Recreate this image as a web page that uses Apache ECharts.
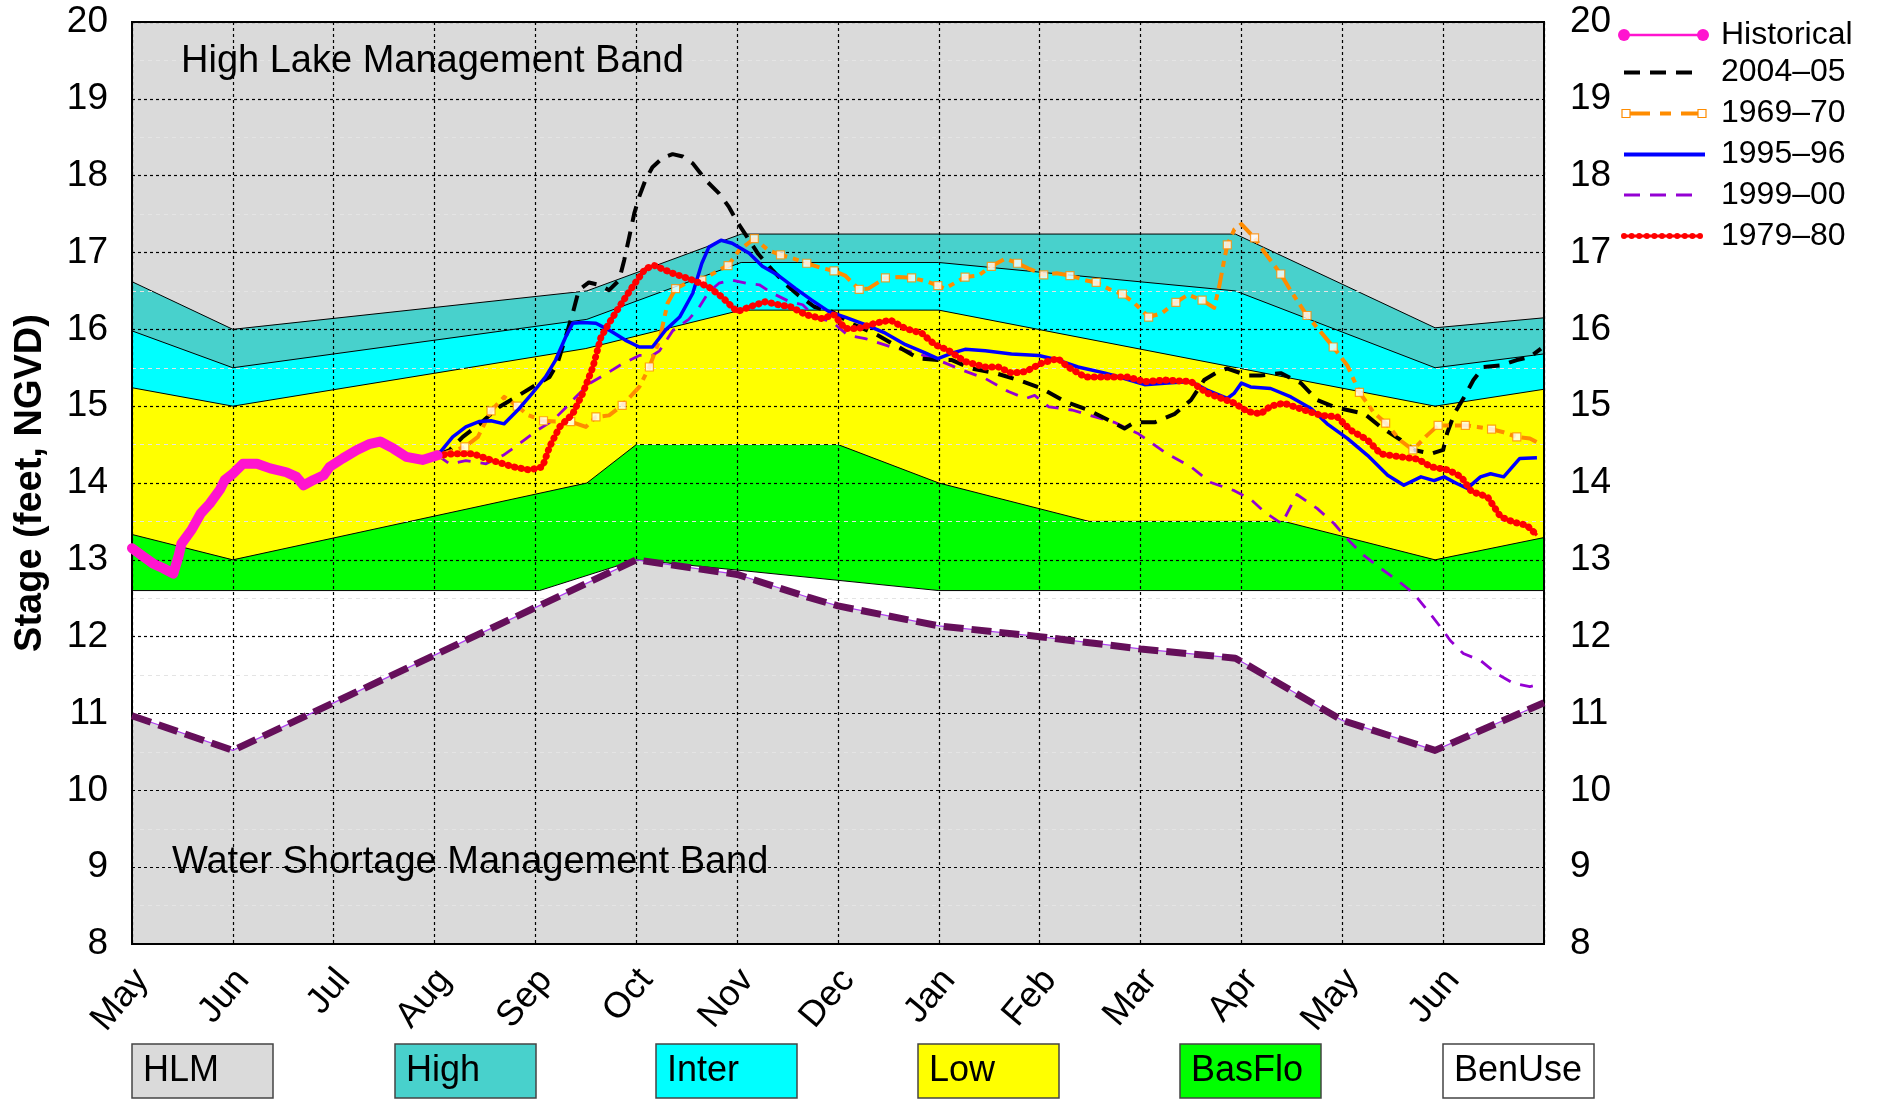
<!DOCTYPE html>
<html><head><meta charset="utf-8">
<script src="https://cdn.jsdelivr.net/npm/echarts@6/dist/echarts.min.js"></script>
<style>html,body{margin:0;padding:0;background:#fff}#c{width:1877px;height:1099px}</style>
</head><body><div id="c"></div>
<script>
// ---------- data (x = months since May 1, y = stage in feet NGVD) ----------
const monthLabels = ['May','Jun','Jul','Aug','Sep','Oct','Nov','Dec','Jan','Feb','Mar','Apr','May','Jun'];

// band boundaries
const hlmHighLine   = [[0,16.62],[1,16.0],[4.51,16.5],[6.04,17.24],[10.94,17.24],[12.92,16.02],[14,16.15]];
const highInterLine = [[0,15.98],[1,15.5],[4.51,16.13],[6.04,16.87],[8,16.87],[10.94,16.5],[12.92,15.5],[14,15.68]];
const interLowLine  = [[0,15.24],[1,15.0],[4.5,15.75],[6.04,16.25],[8,16.25],[12.92,15.0],[14,15.22]];
const lowBasLine    = [[0,13.33],[1,13.0],[4.51,14.0],[5.0,14.5],[7.0,14.5],[8.0,14.0],[9.49,13.5],[11.42,13.5],[12.92,13.0],[14,13.29]];
const basBenLine    = [[0,12.6],[4.04,12.6],[5.0,13.0],[8.0,12.6],[14,12.6]];
const wsmLine       = [[0,10.97],[1,10.52],[5,13.0],[6,12.81],[6.71,12.51],[7,12.40],[8,12.14],[9,12.0],[10,11.84],[10.94,11.72],[11.06,11.63],[12,10.91],[12.92,10.52],[14,11.14]];

// stage traces
const historical = [[0.0,13.15],[0.115,13.04],[0.21,12.95],[0.31,12.89],[0.41,12.82],[0.46,13.04],[0.49,13.21],[0.59,13.39],[0.68,13.60],[0.77,13.73],[0.87,13.91],[0.92,14.04],[1.0,14.12],[1.10,14.25],[1.24,14.25],[1.37,14.19],[1.53,14.14],[1.63,14.08],[1.70,13.97],[1.80,14.04],[1.90,14.10],[1.96,14.21],[2.09,14.32],[2.23,14.43],[2.36,14.51],[2.46,14.54],[2.59,14.45],[2.72,14.34],[2.88,14.30],[3.03,14.36]];

const y2004_05 = [[3.03,14.36],[3.15,14.43],[3.28,14.60],[3.45,14.77],[3.64,14.99],[3.81,15.12],[3.97,15.25],[4.14,15.38],[4.22,15.56],[4.30,15.90],[4.37,16.21],[4.43,16.51],[4.53,16.61],[4.63,16.58],[4.73,16.51],[4.83,16.64],[4.88,16.90],[4.93,17.20],[4.98,17.51],[5.03,17.73],[5.09,17.94],[5.16,18.11],[5.26,18.23],[5.36,18.28],[5.46,18.25],[5.56,18.16],[5.69,17.94],[5.82,17.77],[5.92,17.59],[6.00,17.40],[6.10,17.20],[6.21,16.98],[6.35,16.77],[6.48,16.59],[6.61,16.44],[6.77,16.29],[6.94,16.23],[7.14,16.07],[7.37,15.94],[7.60,15.77],[7.80,15.62],[7.99,15.60],[8.13,15.60],[8.32,15.49],[8.56,15.43],[8.79,15.34],[9.02,15.23],[9.25,15.06],[9.48,14.95],[9.68,14.82],[9.84,14.71],[9.94,14.79],[10.14,14.79],[10.34,14.90],[10.50,15.08],[10.63,15.34],[10.77,15.45],[10.86,15.49],[11.06,15.40],[11.19,15.40],[11.39,15.43],[11.59,15.30],[11.75,15.08],[11.92,14.99],[12.05,14.95],[12.22,14.90],[12.38,14.73],[12.58,14.56],[12.71,14.43],[12.88,14.38],[13.00,14.43],[13.04,14.65],[13.11,14.90],[13.21,15.12],[13.30,15.34],[13.40,15.51],[13.57,15.53],[13.73,15.60],[13.86,15.64],[13.97,15.75]];

const y1969_70 = [[3.03,14.36],[3.30,14.47],[3.43,14.60],[3.56,14.94],[3.69,15.12],[3.82,15.00],[3.93,14.88],[4.08,14.81],[4.20,14.80],[4.35,14.80],[4.50,14.73],[4.60,14.86],[4.73,14.88],[4.86,15.01],[5.03,15.25],[5.13,15.51],[5.23,15.86],[5.31,16.34],[5.39,16.53],[5.56,16.64],[5.65,16.64],[5.82,16.77],[5.91,16.83],[6.02,17.03],[6.17,17.18],[6.31,17.03],[6.43,16.97],[6.56,16.92],[6.69,16.86],[6.83,16.80],[6.96,16.76],[7.07,16.70],[7.21,16.52],[7.30,16.53],[7.47,16.67],[7.60,16.68],[7.73,16.67],[7.89,16.62],[7.99,16.57],[8.06,16.53],[8.26,16.68],[8.39,16.70],[8.52,16.82],[8.66,16.92],[8.78,16.86],[8.89,16.79],[9.04,16.71],[9.17,16.73],[9.30,16.70],[9.45,16.64],[9.56,16.61],[9.71,16.51],[9.82,16.46],[9.94,16.34],[10.08,16.16],[10.21,16.21],[10.35,16.35],[10.47,16.45],[10.61,16.38],[10.73,16.28],[10.78,16.56],[10.83,16.91],[10.86,17.10],[10.93,17.30],[11.00,17.37],[11.13,17.19],[11.23,17.00],[11.39,16.72],[11.49,16.50],[11.65,16.18],[11.79,15.96],[11.91,15.77],[12.05,15.53],[12.17,15.18],[12.31,14.92],[12.43,14.78],[12.58,14.55],[12.70,14.43],[12.84,14.62],[12.95,14.75],[13.08,14.75],[13.22,14.75],[13.34,14.73],[13.48,14.70],[13.60,14.66],[13.73,14.60],[13.86,14.58],[13.96,14.51]];
const y1969_70Weekly = [[3.04,14.37],[3.30,14.47],[3.56,14.94],[3.82,15.00],[4.08,14.81],[4.35,14.80],[4.60,14.86],[4.86,15.01],[5.13,15.51],[5.39,16.53],[5.65,16.64],[5.91,16.83],[6.17,17.18],[6.43,16.97],[6.69,16.86],[6.96,16.76],[7.21,16.52],[7.47,16.67],[7.73,16.67],[7.99,16.57],[8.26,16.68],[8.52,16.82],[8.78,16.86],[9.04,16.71],[9.30,16.70],[9.56,16.61],[9.82,16.46],[10.08,16.16],[10.35,16.35],[10.61,16.38],[10.86,17.10],[11.13,17.19],[11.39,16.72],[11.65,16.18],[11.91,15.77],[12.17,15.18],[12.43,14.78],[12.70,14.43],[12.95,14.75],[13.22,14.75],[13.48,14.70],[13.73,14.60]];

const y1995_96 = [[3.03,14.36],[3.18,14.60],[3.31,14.73],[3.44,14.80],[3.56,14.81],[3.69,14.77],[3.84,14.97],[3.97,15.17],[4.10,15.38],[4.20,15.60],[4.30,15.90],[4.37,16.08],[4.47,16.09],[4.60,16.08],[4.73,15.99],[4.89,15.86],[5.03,15.77],[5.16,15.77],[5.29,15.99],[5.43,16.16],[5.56,16.47],[5.65,16.86],[5.72,17.07],[5.84,17.16],[5.95,17.12],[6.12,16.99],[6.25,16.82],[6.41,16.70],[6.58,16.53],[6.74,16.38],[6.91,16.23],[7.07,16.16],[7.27,16.06],[7.47,15.95],[7.67,15.80],[7.87,15.69],[7.99,15.62],[8.13,15.69],[8.26,15.74],[8.46,15.72],[8.72,15.68],[8.99,15.66],[9.18,15.60],[9.38,15.51],[9.65,15.43],[9.84,15.36],[10.04,15.28],[10.27,15.30],[10.50,15.32],[10.66,15.21],[10.86,15.10],[10.93,15.17],[11.0,15.30],[11.09,15.25],[11.29,15.23],[11.49,15.12],[11.69,14.97],[11.85,14.77],[12.05,14.58],[12.25,14.36],[12.45,14.10],[12.61,13.97],[12.78,14.08],[12.91,14.03],[13.01,14.08],[13.14,13.99],[13.24,13.93],[13.37,14.08],[13.47,14.12],[13.60,14.08],[13.76,14.32],[13.93,14.33]];

const y1999_00 = [[3.03,14.36],[3.15,14.25],[3.31,14.29],[3.51,14.25],[3.68,14.36],[3.84,14.51],[4.01,14.68],[4.17,14.81],[4.30,14.98],[4.40,15.12],[4.53,15.29],[4.70,15.42],[4.86,15.55],[5.03,15.66],[5.16,15.66],[5.23,15.72],[5.36,15.98],[5.52,16.13],[5.62,16.28],[5.72,16.49],[5.82,16.60],[5.95,16.64],[6.09,16.60],[6.22,16.58],[6.35,16.47],[6.52,16.36],[6.65,16.32],[6.78,16.15],[6.94,16.10],[7.10,15.92],[7.27,15.88],[7.53,15.77],[7.80,15.68],[8.03,15.58],[8.23,15.47],[8.46,15.36],[8.69,15.19],[8.86,15.10],[8.95,15.14],[9.09,14.99],[9.32,14.95],[9.55,14.86],[9.74,14.79],[9.98,14.64],[10.24,14.40],[10.51,14.20],[10.69,14.01],[10.93,13.90],[11.09,13.79],[11.23,13.62],[11.40,13.47],[11.55,13.85],[11.75,13.67],[11.92,13.47],[12.05,13.27],[12.21,13.06],[12.38,12.89],[12.55,12.73],[12.71,12.56],[12.87,12.30],[13.0,12.08],[13.07,11.95],[13.20,11.78],[13.37,11.69],[13.53,11.52],[13.70,11.39],[13.86,11.35],[13.93,11.37]];

const y1979_80 = [[3.03,14.36],[3.18,14.38],[3.38,14.38],[3.58,14.29],[3.78,14.21],[3.94,14.17],[4.07,14.21],[4.14,14.47],[4.24,14.73],[4.37,14.90],[4.47,15.17],[4.57,15.51],[4.65,15.90],[4.73,16.08],[4.83,16.29],[4.96,16.55],[5.09,16.79],[5.18,16.83],[5.36,16.73],[5.56,16.64],[5.72,16.55],[5.85,16.42],[6.00,16.23],[6.12,16.29],[6.28,16.36],[6.41,16.32],[6.54,16.29],[6.68,16.19],[6.84,16.14],[6.96,16.19],[7.07,16.01],[7.20,16.01],[7.37,16.08],[7.52,16.12],[7.67,16.01],[7.83,15.95],[7.96,15.80],[8.09,15.73],[8.26,15.58],[8.46,15.51],[8.59,15.51],[8.72,15.43],[8.86,15.45],[9.02,15.56],[9.18,15.62],[9.28,15.51],[9.45,15.38],[9.71,15.38],[9.87,15.38],[10.04,15.32],[10.24,15.34],[10.50,15.32],[10.66,15.17],[10.93,15.04],[11.06,14.93],[11.19,14.90],[11.29,15.00],[11.42,15.04],[11.62,14.95],[11.79,14.88],[11.95,14.86],[12.08,14.69],[12.25,14.56],[12.38,14.38],[12.58,14.34],[12.75,14.31],[12.88,14.21],[13.05,14.17],[13.18,14.08],[13.28,13.89],[13.44,13.82],[13.57,13.56],[13.70,13.49],[13.83,13.45],[13.93,13.32]];

const legendNames = ['Historical','2004\u201305','1969\u201370','1995\u201396','1999\u201300','1979\u201380'];
const bandBoxes = [['HLM','#dadada'],['High','#48d1cc'],['Inter','#00ffff'],['Low','#ffff00'],['BasFlo','#00ff00'],['BenUse','#ffffff']];

// ---------- chart ----------
const FONT = "'Liberation Sans', Arial, Helvetica, sans-serif";
const chart = echarts.init(document.getElementById('c'), null, {renderer: 'canvas'});

function band(data, color) {
  return {type: 'line', data, z: 1, symbol: 'none', silent: true,
          lineStyle: {color: '#000', width: 1}, areaStyle: {color, opacity: 1, origin: 'start'}};
}
function trace(data, color, width, type, z, extra) {
  return Object.assign({type: 'line', data, z, symbol: 'none', silent: true,
          lineStyle: {color, width, type, cap: 'butt', join: 'round'}}, extra || {});
}

const series = [
  band(hlmHighLine, '#48d1cc'),
  band(highInterLine, '#00ffff'),
  band(interLowLine, '#ffff00'),
  band(lowBasLine, '#00ff00'),
  band(basBenLine, '#ffffff'),
  {type: 'line', data: wsmLine, z: 1, symbol: 'none', silent: true,
   lineStyle: {width: 0}, areaStyle: {color: '#dadada', opacity: 1, origin: 'start'}},
  trace(wsmLine, '#b040f0', 1.2, 'solid', 4),
  trace(wsmLine, '#650f5a', 7, [20, 8], 4),
  trace(y1999_00, '#9400d3', 2.8, [13, 10], 5),
  trace(y2004_05, '#000000', 4, [16, 10], 6),
  trace(y1969_70, '#ff8c00', 4, [16, 6, 6, 6], 6),
  {type: 'scatter', data: y1969_70Weekly, z: 7, silent: true, symbol: 'rect', symbolSize: 8,
   itemStyle: {color: '#ffffff', borderColor: '#ff8c00', borderWidth: 1.2}},
  trace(y1995_96, '#0000ff', 3.5, 'solid', 8),
  trace(y1979_80, '#ff0000', 3.2, 'solid', 9),
  trace(y1979_80, '#ff0000', 7, [0.1, 6.5], 9, {lineStyle: {color: '#ff0000', width: 7, type: [0.1, 6.5], cap: 'round'}}),
  trace(historical, '#ff14cf', 10, 'solid', 10, {lineStyle: {color: '#ff14cf', width: 10, cap: 'round', join: 'round'}})
];

// legend graphics (top right)
const legendX1 = 1624, legendX2 = 1703, legendTextX = 1721;
const legendY = [35, 72.5, 113.5, 154.5, 195, 236];
const graphics = [];
graphics.push({type: 'line', z: 50, shape: {x1: legendX1, y1: legendY[0], x2: legendX2, y2: legendY[0]}, style: {stroke: '#ff14cf', lineWidth: 2.5}});
graphics.push({type: 'circle', z: 51, shape: {cx: legendX1, cy: legendY[0], r: 6}, style: {fill: '#ff14cf'}});
graphics.push({type: 'circle', z: 51, shape: {cx: legendX2, cy: legendY[0], r: 6}, style: {fill: '#ff14cf'}});
graphics.push({type: 'line', z: 50, shape: {x1: legendX1, y1: legendY[1], x2: 1692, y2: legendY[1]}, style: {stroke: '#000', lineWidth: 4, lineDash: [16, 10]}});
graphics.push({type: 'line', z: 50, shape: {x1: 1626, y1: legendY[2], x2: 1702, y2: legendY[2]}, style: {stroke: '#ff8c00', lineWidth: 4, lineDash: [24, 10, 11, 10]}});
graphics.push({type: 'rect', z: 51, shape: {x: 1622, y: legendY[2] - 4, width: 8, height: 8}, style: {fill: '#fff', stroke: '#ff8c00', lineWidth: 1.2}});
graphics.push({type: 'rect', z: 51, shape: {x: 1698, y: legendY[2] - 4, width: 8, height: 8}, style: {fill: '#fff', stroke: '#ff8c00', lineWidth: 1.2}});
graphics.push({type: 'line', z: 50, shape: {x1: legendX1, y1: legendY[3], x2: 1705, y2: legendY[3]}, style: {stroke: '#0000ff', lineWidth: 4}});
graphics.push({type: 'line', z: 50, shape: {x1: legendX1, y1: legendY[4], x2: 1692, y2: legendY[4]}, style: {stroke: '#9400d3', lineWidth: 3, lineDash: [16, 10]}});
graphics.push({type: 'line', z: 50, shape: {x1: legendX1, y1: legendY[5], x2: 1700, y2: legendY[5]}, style: {stroke: '#ff0000', lineWidth: 3}});
for (let k = 0; k <= 10; k++) {
  graphics.push({type: 'circle', z: 51, shape: {cx: legendX1 + k * 7.6, cy: legendY[5], r: 3}, style: {fill: '#ff0000'}});
}
legendNames.forEach((n, i) => {
  graphics.push({type: 'text', z: 52, x: legendTextX, y: legendY[i],
    style: {text: n, font: '32px ' + FONT, fill: '#000', textAlign: 'left', textVerticalAlign: 'middle', align: 'left', verticalAlign: 'middle'}});
});

// band name texts
graphics.push({type: 'text', z: 40, x: 181, y: 62,
  style: {text: 'High Lake Management Band', font: '38px ' + FONT, fill: '#000', textAlign: 'left', textVerticalAlign: 'middle', align: 'left', verticalAlign: 'middle'}});
graphics.push({type: 'text', z: 40, x: 172, y: 863,
  style: {text: 'Water Shortage Management Band', font: '38px ' + FONT, fill: '#000', textAlign: 'left', textVerticalAlign: 'middle', align: 'left', verticalAlign: 'middle'}});

// band boxes at bottom
const boxX = [132, 395, 656, 918, 1180, 1443];
bandBoxes.forEach((b, i) => {
  const w = i === 5 ? 151 : 141;
  graphics.push({type: 'rect', z: 40, shape: {x: boxX[i], y: 1044, width: w, height: 54},
    style: {fill: b[1], stroke: '#444', lineWidth: 1.5}});
  graphics.push({type: 'text', z: 41, x: boxX[i] + 11, y: 1071,
    style: {text: b[0], font: '36px ' + FONT, fill: '#000', textAlign: 'left', textVerticalAlign: 'middle', align: 'left', verticalAlign: 'middle'}});
});

const option = {
  animation: false,
  backgroundColor: '#ffffff',
  textStyle: {fontFamily: FONT},
  grid: [
    {left: 132, right: 333, top: 22, bottom: 155, show: true, backgroundColor: '#dadada', borderColor: '#000', borderWidth: 2},
    {left: 142, right: 323, top: 22, bottom: 155, show: false}
  ],
  xAxis: [
    {type: 'value', gridIndex: 0, min: 0, max: 14, interval: 1, z: 3,
     axisLine: {show: true, onZero: false, lineStyle: {color: '#000', width: 2}},
     axisTick: {show: false}, axisLabel: {show: false},
     splitLine: {show: true, lineStyle: {color: '#000', type: [3, 3], width: 1.2}}},
    {type: 'value', gridIndex: 1, min: 0, max: 14, interval: 1,
     axisLine: {show: false}, axisTick: {show: false}, splitLine: {show: false},
     axisLabel: {show: true, rotate: 50, margin: 30, fontSize: 36, color: '#000', fontFamily: FONT,
       formatter: v => monthLabels[Math.round(v)] || ''}}
  ],
  yAxis: [
    {type: 'value', gridIndex: 0, position: 'left', min: 8, max: 20, interval: 1, z: 3,
     axisLine: {show: true, onZero: false, lineStyle: {color: '#000', width: 2}},
     axisTick: {show: false},
     axisLabel: {fontSize: 37, margin: 24, color: '#000', fontFamily: FONT},
     splitLine: {show: true, lineStyle: {color: '#000', type: [3, 3], width: 1.2}},
     minorTick: {show: false, splitNumber: 2},
     minorSplitLine: {show: true, lineStyle: {color: '#e4e4e4', type: [4, 4], width: 1}},
     name: 'Stage (feet, NGVD)', nameLocation: 'middle', nameRotate: 90, nameGap: 82,
     nameTextStyle: {fontSize: 38, fontWeight: 'bold', color: '#000', fontFamily: FONT}},
    {type: 'value', gridIndex: 0, position: 'right', min: 8, max: 20, interval: 1, z: 3,
     axisLine: {show: true, onZero: false, lineStyle: {color: '#000', width: 2}},
     axisTick: {show: false}, splitLine: {show: false},
     axisLabel: {fontSize: 37, margin: 26, color: '#000', fontFamily: FONT}},
    {type: 'value', gridIndex: 1, min: 8, max: 20, show: false}
  ],
  series: series.map(s => Object.assign({xAxisIndex: 0, yAxisIndex: 0}, s)),
  graphic: {elements: graphics}
};
chart.setOption(option);
</script></body></html>
